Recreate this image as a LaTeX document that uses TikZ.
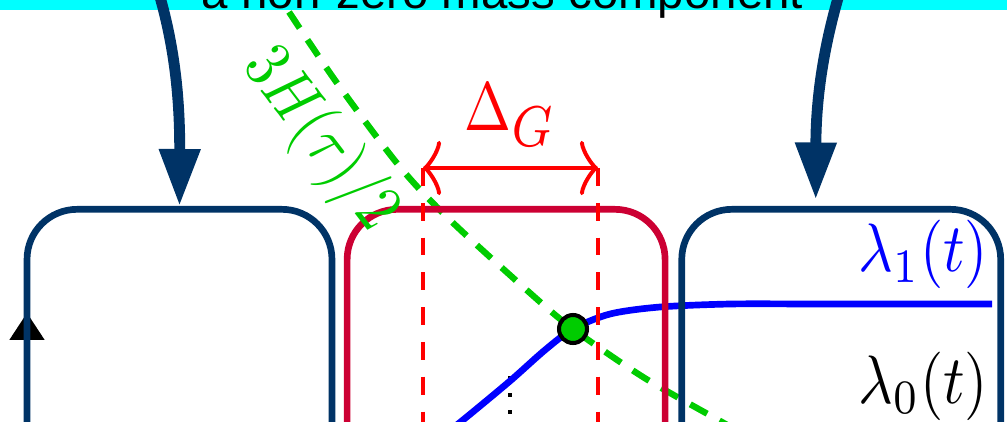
\documentclass[tikz,border=0pt]{standalone}
\usepackage{fontspec}
\usepackage{amsmath}
\usetikzlibrary{arrows.meta,positioning,calc}
\newfontfamily\bandfont{Liberation Sans}
\definecolor{navy}{HTML}{003366}
\definecolor{crimson}{HTML}{CC0033}
\definecolor{leaf}{HTML}{00CC00}
\definecolor{strip}{HTML}{00FFFF}
\newcommand\tallmath[2][3.2]{\scalebox{#1}[3.9]{$#2$}}
\tikzset{panel/.style={draw=#1,line width=3.8pt,rounded corners=1cm,
  minimum width=6.1cm,minimum height=8cm,inner sep=0pt},
  feed/.style={-{Triangle[length=11.4mm,width=7.8mm]},line width=6.2pt,draw=navy},
  gapline/.style={draw=red,line width=2.7pt,dash pattern=on 10.2pt off 9.6pt},
  gaparrow/.style={{Classical TikZ Rightarrow[scale width=2.5,scale length=1.6]}-{Classical TikZ Rightarrow[scale width=2.5,scale length=1.6]},
    draw=red,line width=2.8pt},
  hcurve/.style={draw=leaf,line width=3.6pt,dash pattern=on 11pt off 8pt},
  lamcurve/.style={draw=blue,line width=3.8pt},
  dotline/.style={draw=black,line width=2.3pt,dash pattern=on 2.3pt off 7.4pt},
  axisline/.style={-{Triangle[length=5.4mm,width=7mm]},line width=1pt,draw=black},
  meet/.style={circle,fill=leaf,draw=black,line width=2.3pt,minimum size=5.6mm,inner sep=0pt},
  lam/.style={inner sep=0pt}}

\begin{document}
\begin{tikzpicture}[x=0.02cm,y=-0.02cm]
\useasboundingbox (0,0) rectangle (1007,422);
\clip (0,0) rectangle (1007,422);
% caption strip at the top
\node[fill=strip,minimum width=20.4cm,inner xsep=0pt,inner ysep=0.5pt,text depth=0pt,
  anchor=base,font=\bandfont\fontsize{27}{32}\selectfont] (band) at (502.5,9) {a non-zero mass component};
% vertical axis under the first panel
\coordinate (yaxbot) at (27,440);
\coordinate (yaxtop) at (27,313);
\draw[axisline] (yaxbot) -- (yaxtop);
% level curve and its marks
\coordinate (dottop) at (510,376);
\coordinate (dotbot) at (510,440);
\draw[dotline] (dottop) -- (dotbot);
\coordinate (lamend) at (992,304);
\draw[lamcurve] plot[smooth] coordinates {(430,446) (463,420) (510,381) (545,350) (573,329)
  (610,314) (660,307) (730,304) (800,304)} -- (lamend);
\draw[hcurve] plot[smooth] coordinates {(289,12) (337,83) (400,167) (450,220) (530,293)
  (573,329) (643,377) (713,417) (740,432)};
% panels
\node[panel=navy,anchor=north] (leftbox) at (179.5,206) {};
\node[panel=crimson,minimum width=6.36cm,right=0.17cm of leftbox] (midbox) {};
\node[panel=navy,minimum width=6.38cm,right=0.2cm of midbox] (rightbox) {};
% gap
\coordinate (gl) at (423,168);
\coordinate (gr) at (598,168);
\draw[gapline] (gl) -- (gl |- dotbot);
\draw[gapline] (gr) -- (gr |- dotbot);
\draw[gaparrow] (gl) -- (gr) node[midway,above=11pt,lam,text=red] (gaplabel)
  {\tallmath{\Delta_{\scalebox{1.2}{$\scriptstyle G$}}}};
\node[meet] (meet) at (573,329) {};
% labels
\node[lam,text=leaf,rotate=-52.6] (hlabel) at (320,140) {\tallmath{3H(\tau)/2}};
\node[lam,text=blue,anchor=base west] (lamone) at (858,272) {\tallmath[3.4]{\lambda_1(t)}};
\node[lam,anchor=base west] (lamzero) at (858,403) {\tallmath[3.4]{\lambda_0(t)}};
% arrows from the caption
\coordinate (srcL) at (148,-40);
\coordinate (srcR) at (850,-40);
\draw[feed] (srcL) .. controls (170,20) and (180,80) .. (leftbox.north);
\draw[feed] (srcR) .. controls (826,30) and (816,90) .. ([xshift=-0.51cm,yshift=0.13cm]rightbox.north);
\end{tikzpicture}
\end{document}
